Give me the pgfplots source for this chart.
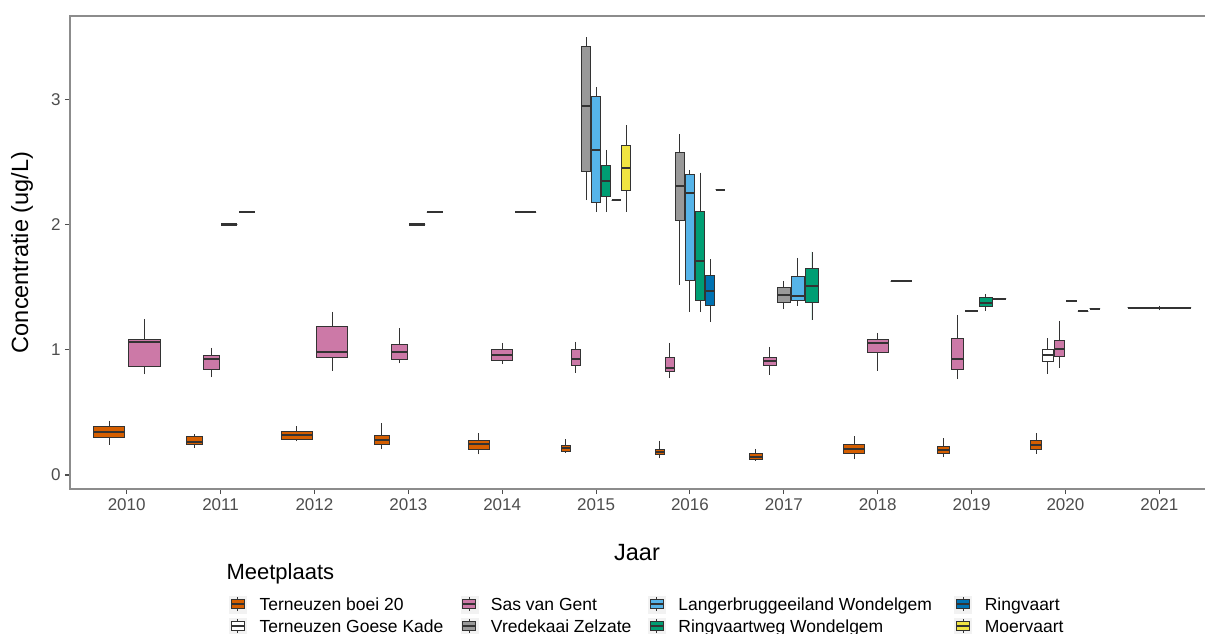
\documentclass[border=0pt]{standalone}
\usepackage{pgfplots}
\pgfplotsset{compat=1.18}
\usepgfplotslibrary{statistics}
\usepackage{fontspec}
\setmainfont{Liberation Sans}

\definecolor{cOrange}{HTML}{D55E00}
\definecolor{cWhite}{HTML}{FFFFFF}
\definecolor{cPink}{HTML}{CC79A7}
\definecolor{cGray}{HTML}{999999}
\definecolor{cLBlue}{HTML}{56B4E9}
\definecolor{cGreen}{HTML}{009E73}
\definecolor{cDBlue}{HTML}{0072B2}
\definecolor{cYellow}{HTML}{F0E442}
\definecolor{boxline}{HTML}{333333}
\definecolor{axisgray}{HTML}{8C8C8C}
\definecolor{tickgray}{HTML}{4D4D4D}
\definecolor{keybg}{HTML}{F2F2F2}

% one box: year index, slot, slots in that year, fill, lw, lq, med, uq, uw
\newcommand{\bx}[9]{%
  \pgfmathsetmacro\bxpos{#1-0.375+(#2+0.5)*0.75/#3}%
  \pgfmathsetmacro\bxext{0.675/#3}%
  \edef\bxdo{\noexpand\addplot[forget plot, fill=#4, draw=boxline, line width=0.95pt,
    boxplot/draw direction=y,
    boxplot prepared={draw position=\bxpos, box extend=\bxext, whisker extend=0,
      lower whisker=#5, lower quartile=#6, median=#7, upper quartile=#8, upper whisker=#9}]
    coordinates {};}%
  \bxdo}

\pgfplotsset{
  keystyle/.style={legend image code/.code={
    \fill[keybg] (0pt,-8.5pt) rectangle (17pt,8.5pt);
    \draw[boxline, line width=0.9pt] (8.5pt,-7pt) -- (8.5pt,7pt);
    \draw[boxline, fill=#1, line width=0.9pt] (2pt,-4.5pt) rectangle (15pt,4.5pt);
    \draw[boxline, line width=1.6pt] (2pt,0pt) -- (15pt,0pt);
    \path (30pt,0pt);
  }},
  boxplot/every median/.style={line width=2.2pt},
}

\begin{document}
\begin{tikzpicture}
\useasboundingbox (-70pt,-144pt) rectangle (1135pt,489pt);
\begin{axis}[
  at={(0,0)}, anchor=south west,
  scale only axis, width=1146pt, height=473pt,
  xmin=-0.604, xmax=11.604, ymin=-0.112, ymax=3.666,
  xtick={0,1,2,3,4,5,6,7,8,9,10,11},
  xticklabels={2010,2011,2012,2013,2014,2015,2016,2017,2018,2019,2020,2021},
  ytick={0,1,2,3},
  tick pos=left, tick align=outside, major tick length=5pt,
  axis line style={axisgray, line width=1.1pt},
  tick style={tickgray, line width=1.1pt},
  /pgf/number format/assume math mode=true,
  tick label style={font=\fontsize{17}{20}\selectfont, text=tickgray},
  xticklabel style={yshift=-1pt},
  yticklabel style={xshift=-1pt},
  xlabel={Jaar}, ylabel={Concentratie (ug/L)},
  every axis x label/.style={at={(axis description cs:0,0)}, anchor=base,
    xshift=567pt, yshift=-71pt, font=\fontsize{23.5}{28}\selectfont},
  every axis y label/.style={at={(axis description cs:-0.0419,0.5)}, rotate=90,
    anchor=center, font=\fontsize{23.5}{28}\selectfont},
  legend columns=2, transpose legend,
  legend cell align=left,
  legend style={at={(axis description cs:0,0)}, anchor=north west,
    xshift=159pt, yshift=-106pt, draw=none, fill=none, inner sep=0pt,
    column sep=0pt, row sep=4pt,
    nodes={inner sep=0pt, text height=15pt, text depth=3pt,
      font=\fontsize{17.5}{20}\selectfont}},
]
\addlegendimage{keystyle=cOrange}
\addlegendimage{keystyle=cWhite}
\addlegendimage{keystyle=cPink}
\addlegendimage{keystyle=cGray}
\addlegendimage{keystyle=cLBlue}
\addlegendimage{keystyle=cGreen}
\addlegendimage{keystyle=cDBlue}
\addlegendimage{keystyle=cYellow}
\addlegendentry{\makebox[201pt][l]{Terneuzen boei 20}}
\addlegendentry{\makebox[201pt][l]{Terneuzen Goese Kade}}
\addlegendentry{\makebox[157pt][l]{Sas van Gent}}
\addlegendentry{\makebox[157pt][l]{Vredekaai Zelzate}}
\addlegendentry{\makebox[276pt][l]{Langerbruggeeiland Wondelgem}}
\addlegendentry{\makebox[276pt][l]{Ringvaartweg Wondelgem}}
\addlegendentry{Ringvaart}
\addlegendentry{Moervaart}

% 2010
\bx{0}{0}{2}{cOrange}{0.240}{0.298}{0.341}{0.389}{0.434}
\bx{0}{1}{2}{cPink}{0.804}{0.865}{1.065}{1.086}{1.246}
% 2011
\bx{1}{0}{4}{cOrange}{0.218}{0.240}{0.264}{0.311}{0.325}
\bx{1}{1}{4}{cPink}{0.780}{0.844}{0.924}{0.951}{1.018}
\bx{1}{2}{4}{cGray}{2.000}{2.000}{2.000}{2.000}{2.000}
\bx{1}{3}{4}{cLBlue}{2.100}{2.100}{2.100}{2.100}{2.100}
% 2012
\bx{2}{0}{2}{cOrange}{0.269}{0.285}{0.320}{0.346}{0.389}
\bx{2}{1}{2}{cPink}{0.833}{0.940}{0.985}{1.188}{1.304}
% 2013
\bx{3}{0}{4}{cOrange}{0.205}{0.245}{0.280}{0.319}{0.413}
\bx{3}{1}{4}{cPink}{0.892}{0.924}{0.980}{1.041}{1.174}
\bx{3}{2}{4}{cGray}{2.000}{2.000}{2.000}{2.000}{2.000}
\bx{3}{3}{4}{cLBlue}{2.100}{2.100}{2.100}{2.100}{2.100}
% 2014
\bx{4}{0}{3}{cOrange}{0.165}{0.205}{0.245}{0.274}{0.333}
\bx{4}{1}{3}{cPink}{0.884}{0.918}{0.958}{1.000}{1.057}
\bx{4}{2}{3}{cGray}{2.100}{2.100}{2.100}{2.100}{2.100}
% 2015
\bx{5}{0}{7}{cOrange}{0.180}{0.186}{0.213}{0.232}{0.285}
\bx{5}{1}{7}{cPink}{0.817}{0.871}{0.927}{1.004}{1.065}
\bx{5}{2}{7}{cGray}{2.196}{2.423}{2.947}{3.421}{3.496}
\bx{5}{3}{7}{cLBlue}{2.100}{2.175}{2.596}{3.022}{3.097}
\bx{5}{4}{7}{cGreen}{2.100}{2.223}{2.348}{2.476}{2.596}
\bx{5}{5}{7}{cDBlue}{2.196}{2.196}{2.196}{2.196}{2.196}
\bx{5}{6}{7}{cYellow}{2.100}{2.271}{2.450}{2.628}{2.796}
% 2016
\bx{6}{0}{7}{cOrange}{0.133}{0.160}{0.186}{0.205}{0.274}
\bx{6}{1}{7}{cPink}{0.772}{0.825}{0.857}{0.940}{1.057}
\bx{6}{2}{7}{cGray}{1.518}{2.031}{2.311}{2.574}{2.724}
\bx{6}{3}{7}{cLBlue}{1.304}{1.557}{2.250}{2.402}{2.436}
\bx{6}{4}{7}{cGreen}{1.300}{1.390}{1.707}{2.103}{2.415}
\bx{6}{5}{7}{cDBlue}{1.220}{1.350}{1.472}{1.597}{1.723}
\bx{6}{6}{7}{cYellow}{2.279}{2.279}{2.279}{2.279}{2.279}
% 2017
\bx{7}{0}{5}{cOrange}{0.112}{0.125}{0.146}{0.168}{0.208}
\bx{7}{1}{5}{cPink}{0.799}{0.873}{0.913}{0.937}{1.025}
\bx{7}{2}{5}{cGray}{1.323}{1.379}{1.438}{1.499}{1.550}
\bx{7}{3}{5}{cLBlue}{1.352}{1.390}{1.430}{1.584}{1.736}
\bx{7}{4}{5}{cGreen}{1.238}{1.376}{1.512}{1.651}{1.784}
% 2018
\bx{8}{0}{3}{cOrange}{0.125}{0.168}{0.205}{0.245}{0.311}
\bx{8}{1}{3}{cPink}{0.833}{0.980}{1.052}{1.086}{1.137}
\bx{8}{2}{3}{cGray}{1.547}{1.547}{1.547}{1.547}{1.547}
% 2019
\bx{9}{0}{5}{cOrange}{0.141}{0.173}{0.200}{0.226}{0.293}
\bx{9}{1}{5}{cPink}{0.764}{0.844}{0.927}{1.092}{1.278}
\bx{9}{2}{5}{cLBlue}{1.307}{1.307}{1.307}{1.307}{1.307}
\bx{9}{3}{5}{cGreen}{1.310}{1.344}{1.376}{1.416}{1.446}
\bx{9}{4}{5}{cDBlue}{1.406}{1.406}{1.406}{1.406}{1.406}
% 2020
\bx{10}{0}{6}{cOrange}{0.168}{0.205}{0.240}{0.274}{0.333}
\bx{10}{1}{6}{cWhite}{0.806}{0.910}{0.958}{1.006}{1.097}
\bx{10}{2}{6}{cPink}{0.857}{0.945}{1.006}{1.075}{1.232}
\bx{10}{3}{6}{cGray}{1.390}{1.390}{1.390}{1.390}{1.390}
\bx{10}{4}{6}{cLBlue}{1.307}{1.307}{1.307}{1.307}{1.307}
\bx{10}{5}{6}{cGreen}{1.328}{1.328}{1.328}{1.328}{1.328}
% 2021
\bx{11}{0}{1}{cGreen}{1.315}{1.334}{1.334}{1.334}{1.352}
\end{axis}
\node[anchor=base west, font=\fontsize{22}{26}\selectfont] at (153pt,-90pt) {Meetplaats};
\end{tikzpicture}
\end{document}
